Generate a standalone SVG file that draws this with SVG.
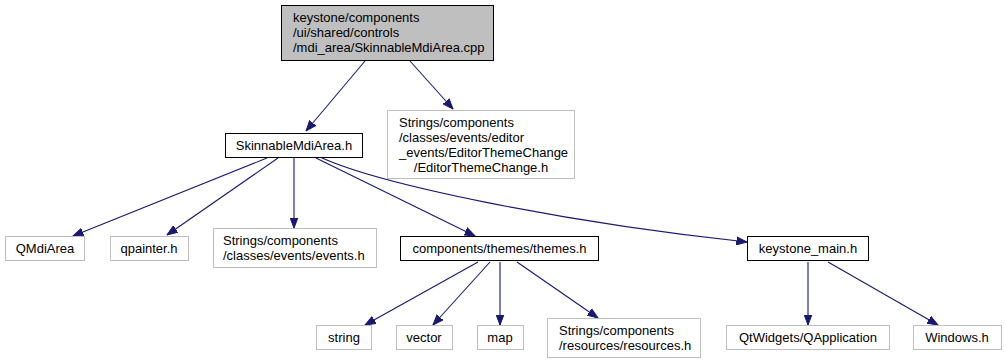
<svg xmlns="http://www.w3.org/2000/svg" width="1006" height="364" viewBox="0 0 1006 364">
<style>
text{font-family:"Liberation Sans",Arial,sans-serif;font-size:13px;fill:#000}
.n rect{fill:#fff;stroke:#bfbfbf;stroke-width:1}
.n.d rect{stroke:#000}
.n.root rect{fill:#bfbfbf;stroke:#000}
.e path{fill:none;stroke:#191970;stroke-width:1.1;marker-end:url(#ah)}
.m{text-anchor:middle}
</style>
<defs>
<marker id="ah" markerUnits="userSpaceOnUse" markerWidth="11" markerHeight="9" refX="10.5" refY="4.5" orient="auto">
<path d="M0,0.5 L10.5,4.5 L0,8.5 z" fill="#191970" stroke="#191970" stroke-width="1"/>
</marker>
</defs>
<rect width="1006" height="364" fill="#fff"/>
<g id="connectors" class="e">
<path d="M365,61 L306,131"/>
<path d="M410,61 L453,109"/>
<path d="M267,158 L73,236"/>
<path d="M278,158 L167,235"/>
<path d="M294,158 L294,228"/>
<path d="M316,158 L475,236"/>
<path d="M320,157 C378,184 560,222 747,242"/>
<path d="M478,262 L365,325"/>
<path d="M490,262 L433,325"/>
<path d="M500,262 L500,325"/>
<path d="M517,262 L598,318"/>
<path d="M808,262 L808,325"/>
<path d="M828,262 L938,325"/>
</g>
<g id="node_root" class="n root">
<rect x="281.5" y="5.5" width="212" height="55"/>
<text x="293" y="22">keystone/components</text>
<text x="293" y="37">/ui/shared/controls</text>
<text x="293" y="52">/mdi_area/SkinnableMdiArea.cpp</text>
</g>
<g id="node_skinnable" class="n d">
<rect x="225.5" y="133.5" width="137" height="24"/>
<text class="m" x="294" y="150">SkinnableMdiArea.h</text>
</g>
<g id="node_editortheme" class="n">
<rect x="387.5" y="110.5" width="187" height="68"/>
<text x="399" y="127">Strings/components</text>
<text x="399" y="142">/classes/events/editor</text>
<text x="399" y="157">_events/EditorThemeChange</text>
<text class="m" x="481" y="172">/EditorThemeChange.h</text>
</g>
<g id="node_qmdiarea" class="n">
<rect x="5.5" y="236.5" width="79" height="24"/>
<text class="m" x="45" y="253">QMdiArea</text>
</g>
<g id="node_qpainter" class="n">
<rect x="110.5" y="236.5" width="78" height="24"/>
<text class="m" x="149" y="253">qpainter.h</text>
</g>
<g id="node_events" class="n">
<rect x="213.5" y="228.5" width="163" height="39"/>
<text x="223" y="245">Strings/components</text>
<text x="223" y="260">/classes/events/events.h</text>
</g>
<g id="node_themes" class="n d">
<rect x="400.5" y="236.5" width="198" height="24"/>
<text class="m" x="499.5" y="253">components/themes/themes.h</text>
</g>
<g id="node_keystone_main" class="n d">
<rect x="747.5" y="236.5" width="121" height="24"/>
<text class="m" x="808" y="253">keystone_main.h</text>
</g>
<g id="node_string" class="n">
<rect x="316.5" y="325.5" width="55" height="24"/>
<text class="m" x="344" y="342">string</text>
</g>
<g id="node_vector" class="n">
<rect x="396.5" y="325.5" width="56" height="24"/>
<text class="m" x="424" y="342">vector</text>
</g>
<g id="node_map" class="n">
<rect x="477.5" y="325.5" width="46" height="24"/>
<text class="m" x="500" y="342">map</text>
</g>
<g id="node_resources" class="n">
<rect x="547.5" y="318.5" width="153" height="39"/>
<text x="559" y="335">Strings/components</text>
<text x="559" y="350">/resources/resources.h</text>
</g>
<g id="node_qapplication" class="n">
<rect x="726.5" y="325.5" width="163" height="24"/>
<text class="m" x="808" y="342">QtWidgets/QApplication</text>
</g>
<g id="node_windows" class="n">
<rect x="913.5" y="325.5" width="88" height="24"/>
<text class="m" x="957" y="342">Windows.h</text>
</g>
</svg>
